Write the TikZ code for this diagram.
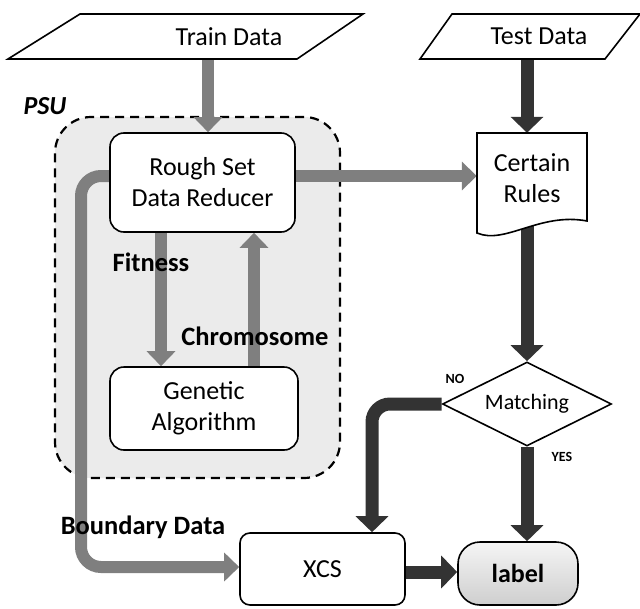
\documentclass[tikz,border=0pt]{standalone}
\usepackage{fontspec}
\setmainfont{Carlito}
\usetikzlibrary{arrows.meta,shapes.geometric,calc}
\definecolor{garrow}{HTML}{7F7F7F}
\definecolor{darrow}{HTML}{333333}
\definecolor{psufill}{HTML}{EBEBEB}
\pgfdeclarelayer{bg}
\pgfdeclarelayer{mid}
\pgfsetlayers{bg,mid,main}
\begin{document}
\begin{tikzpicture}[x=1pt,y=-1pt,
  shapeline/.style={draw=black,line width=1.6pt},
  box/.style={shapeline,rounded corners=14pt,fill=white,align=center,font=\fontsize{26}{31}\selectfont},
  txt/.style={align=center,inner sep=0pt,font=\fontsize{26}{31}\selectfont},
  garr/.style={draw=garrow,line width=12pt,-{Triangle[width=28pt,length=15pt]}},
  darr/.style={draw=darrow,line width=13pt,-{Triangle[width=32pt,length=16pt]}},
  lbl/.style={font=\bfseries\fontsize{26.5}{30}\selectfont,inner sep=0pt},
  small/.style={font=\bfseries\fontsize{14}{16}\selectfont,inner sep=0pt}]
\useasboundingbox (0,0) rectangle (640,608);

% data parallelograms
\draw[shapeline,fill=white] (80,14) -- (363,14) -- (297,59) -- (8,59) -- cycle;
\node[txt,minimum height=45pt] (train) at (229,36.5) {Train Data};
\draw[shapeline,fill=white] (452,14) -- (640,14) -- (605,59) -- (420,59) -- cycle;
\node[txt,minimum height=45pt] (test) at (539,36.5) {Test Data};

% PSU container
\begin{pgfonlayer}{bg}
\node[draw=black,line width=2.2pt,dash pattern=on 9pt off 6pt,fill=psufill,rounded corners=36pt,
      minimum width=285pt,minimum height=361pt,inner sep=0pt] (psu) at (197.5,297.5) {};
\end{pgfonlayer}
\node[font=\bfseries\itshape\fontsize{26}{30}\selectfont,inner sep=0pt] (psulbl) at (45,106) {PSU};

% main boxes
\node[box,minimum width=185pt,minimum height=99pt] (rs) at (202.5,182.5) {Rough Set\\Data Reducer};
\node[box,minimum width=188pt,minimum height=83pt] (ga) at (204,408.5) {Genetic\\Algorithm};

% certain rules (document shape)
\draw[shapeline,fill=white] (477,133) -- (587,133) -- (587,221)
   .. controls (540,212) and (505,245) .. (477,233) -- cycle;
\node[txt,minimum width=110pt,minimum height=90pt] (cr) at (532,178) {Certain\\Rules};

% matching
\node[diamond,shapeline,fill=white,aspect=2,inner sep=0pt,minimum width=169pt,minimum height=84pt,
      font=\fontsize{22}{26}\selectfont] (match) at (527,404) {Matching};

% XCS and label
\node[box,rounded corners=10pt,minimum width=165pt,minimum height=72pt] (xcs) at (322.5,569) {XCS};
\node[shapeline,rounded corners=22pt,top color=gray!8,bottom color=gray!38,
      minimum width=120pt,minimum height=63pt,font=\bfseries\fontsize{26}{31}\selectfont] (lab) at (518,573.5) {label};

% connectors
\begin{pgfonlayer}{mid}
\draw[garr] (train.south -| 208,0) -- (rs.north -| 208,0);
\draw[garr] (rs.south -| 161,0) -- (ga.north -| 161,0);
\draw[garr] (ga.north -| 254,0) -- (rs.south -| 254,0);
\draw[garr] (rs.east |- 0,176) -- (cr.west |- 0,176);
\draw[garr,rounded corners=20pt] (rs.west |- 0,176) -- (81,176) -- (81,567) -- (xcs.west |- 0,567);
\draw[darr] (test.south -| 527,0) -- (cr.north -| 527,0);
\draw[darr] (cr.south -| 527,0) -- (match.north);
\draw[darr] (match.south) -- (lab.north -| 527,0);
\draw[darr,rounded corners=18pt] (match.west) -| (xcs.north -| 372,0);
\draw[darr] (xcs.east |- 0,572) -- (lab.west |- 0,572);
\end{pgfonlayer}

% labels
\node[lbl] (fit) at (151,262) {Fitness};
\node[lbl] (chrom) at (255,336) {Chromosome};
\node[lbl] (bound) at (143,527) {Boundary Data};
\node[small] (no) at (455,379) {NO};
\node[small] (yes) at (562,457) {YES};
\end{tikzpicture}
\end{document}
